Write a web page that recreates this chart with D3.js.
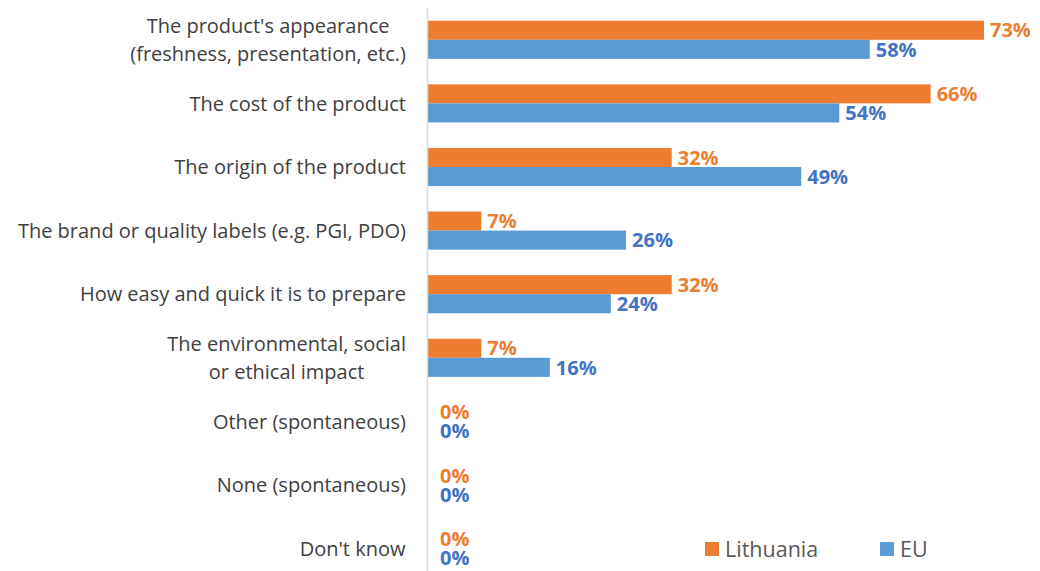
<!DOCTYPE html>
<html>
<head>
<meta charset="utf-8">
<script src="https://cdn.jsdelivr.net/npm/d3@7"></script>
<style>
  body { margin: 0; background: #fff; }
  svg { font-family: "Open Sans", sans-serif; }
  .cat { fill: #404040; font-size: 20px; }
  .val { font-size: 20px; font-weight: bold; }
  .legend text { fill: #595959; font-size: 21.5px; }
</style>
</head>
<body>
<script>
const categories = [
    ["The product's appearance", "(freshness, presentation, etc.)"],
    ["The cost of the product"],
    ["The origin of the product"],
    ["The brand or quality labels (e.g. PGI, PDO)"],
    ["How easy and quick it is to prepare"],
    ["The environmental, social", "or ethical impact"],
    ["Other (spontaneous)"],
    ["None (spontaneous)"],
    ["Don't know"]
];
const lithuania = [73, 66, 32, 7, 32, 7, 0, 0, 0];
const eu = [58, 54, 49, 26, 24, 16, 0, 0, 0];
const seriesNames = ["Lithuania", "EU"];
const barColors = ["#ED7D31", "#5B9BD5"];
const textColors = ["#ED7D31", "#4472C4"];

const w = 1040, h = 571;
const margin = ({top: 8, right: 10, bottom: 0, left: 428});

const svg = d3.select("body")
    .append("svg")
    .attr("width", w)
    .attr("height", h);

let x = d3.scaleLinear()
    .domain([0, 73])
    .range([margin.left, 984]);

let y = d3.scaleBand()
    .domain(d3.range(categories.length))
    .range([8, 8 + 63.6 * categories.length])
    .paddingInner(0.4)
    .paddingOuter(0.2);

let sub = d3.scaleBand()
    .domain([0, 1])
    .range([0, y.bandwidth()]);

const series = [lithuania, eu];

series.forEach(function(vals, s) {
    svg.append("g")
        .selectAll("rect")
        .data(vals)
        .enter().append("rect")
        .attr("x", x(0))
        .attr("y", (d, i) => y(i) + sub(s))
        .attr("width", d => x(d) - x(0))
        .attr("height", sub.bandwidth())
        .attr("fill", barColors[s]);

    svg.append("g")
        .selectAll("text")
        .data(vals)
        .enter().append("text")
        .attr("class", "val")
        .attr("x", d => x(d) + (d === 0 ? 12 : 6))
        .attr("y", (d, i) => y(i) + sub(s) + sub.bandwidth() / 2)
        .attr("dy", "0.36em")
        .attr("fill", textColors[s])
        .text(d => d + "%");
});

// category labels
let labels = svg.append("g")
    .selectAll("text")
    .data(categories)
    .enter().append("text")
    .attr("class", "cat")
    .attr("text-anchor", "middle")
    .attr("transform", (d, i) => `translate(0,${y(i) + y.bandwidth() / 2})`);

labels.each(function(d) {
    let t = d3.select(this);
    d.forEach(function(line, j) {
        t.append("tspan")
            .attr("x", 0)
            .attr("y", (j - (d.length - 1) / 2) * 28)
            .attr("dy", "0.36em")
            .text(line);
    });
});

// right-align the block, lines centred inside it
labels.each(function() {
    let bb = this.getBBox();
    let shift = 406 - (bb.x + bb.width);
    d3.select(this).selectAll("tspan").attr("x", shift);
});

// axis line
svg.append("line")
    .attr("x1", 427.5).attr("x2", 427.5)
    .attr("y1", 8).attr("y2", h)
    .attr("stroke", "#d9d9d9")
    .attr("stroke-width", 1.5);

// legend
let legend = svg.append("g").attr("class", "legend");
const legendX = [705, 880];
seriesNames.forEach(function(name, s) {
    legend.append("rect")
        .attr("x", legendX[s])
        .attr("y", 542)
        .attr("width", 14)
        .attr("height", 14)
        .attr("fill", barColors[s]);
    legend.append("text")
        .attr("x", legendX[s] + 20)
        .attr("y", 549)
        .attr("dy", "0.36em")
        .text(name);
});
</script>
</body>
</html>
